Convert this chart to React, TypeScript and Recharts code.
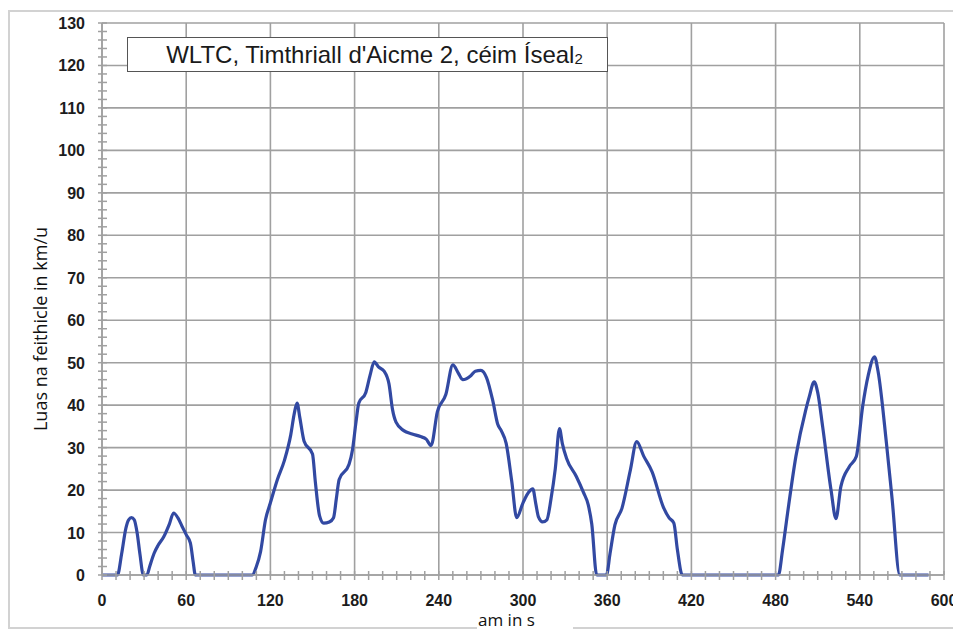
import { LineChart, Line, XAxis, YAxis, ReferenceLine } from 'recharts';

// WLTC class 2, low phase: time (s) vs vehicle speed (km/h)
const times = [
  0, 11, 14, 17, 19, 21, 23, 25, 27, 29.5, 32, 34, 37, 40, 44, 48, 51, 54, 57, 60, 63, 65, 66.5,
  107, 110, 113, 116.5, 120, 125, 130, 134.5, 137, 139, 141, 144, 150, 152, 155, 158, 162, 165, 167, 169,
  176, 178.5, 181, 183, 188, 191, 194, 197, 201, 204.5, 207, 209.5, 215, 221, 227, 231, 234.5, 239, 245,
  250, 254, 257, 263, 266, 270, 274, 278.5, 282, 284.5, 288, 292, 295.5, 300, 304, 307, 309, 311, 314,
  317, 320, 323, 326, 328, 331, 338, 343, 346.5, 349, 352.5, 359.5, 362, 365.5, 370.5, 376.5, 381, 386,
  392, 400, 404, 407.5, 410, 413.5, 482, 485, 488.5, 494.5, 501.5, 504, 507.5, 510, 513.5, 519.5, 523,
  526.5, 532.5, 537.5, 542, 546, 550.5, 553, 559, 563, 568.5, 589,
];
const speeds = [
  0, 0, 5, 11, 13, 13.5, 13, 10, 5, 0, 0, 2, 5, 7, 9, 12, 14.6, 13.5, 11.5, 9.5, 7.5, 3, 0,
  0, 2, 5.5, 13, 17, 22.5, 27, 33, 38, 40.5, 37, 31.5, 28.5, 22, 14, 12.2, 12.5, 13.5, 18, 22.5,
  26, 29.5, 36, 40.5, 43, 47, 50.2, 49, 48, 45, 39, 36, 34, 33.2, 32.6, 32, 30.5, 38.5, 42.5,
  49.5, 47.5, 46, 47, 48, 48.2, 46.5, 41, 35.5, 34, 31, 22, 13.5, 17, 19.5, 20.3, 17, 13.7, 12.5,
  13, 18, 25, 34.5, 31, 27.5, 23.2, 19.5, 16.5, 12, 0, 0, 5, 11.8, 15.7, 24.7, 31.4, 28,
  24.3, 16, 13.5, 12.2, 6, 0, 0, 6, 14.5, 28, 38.9, 42, 45.5, 43, 35, 20, 13.3,
  20.8, 25.5, 27.9, 39.6, 47, 51.4, 48, 31, 18, 0, 0,
];
const xMajor = [0, 60, 120, 180, 240, 300, 360, 420, 480, 540, 600];
const yMajor = [0, 10, 20, 30, 40, 50, 60, 70, 80, 90, 100, 110, 120, 130];
const xTicks = Array.from({ length: 61 }, (_, i) => i * 10);
const yTicks = Array.from({ length: 66 }, (_, i) => i * 2);

const data = times.map((t, i) => ({ t, v: speeds[i] }));

const GRID = '#a0a0a0';
const TICK_FONT = '"Liberation Sans", Arial, sans-serif';

const XTick = (props: any) => {
  const { x, y, payload } = props;
  const major = payload.value % 60 === 0;
  return (
    <g>
      <line x1={x} x2={x} y1={y - 4} y2={y + 5} stroke={GRID} strokeWidth={1.5} />
      {major && (
        <text x={x} y={y + 31} textAnchor="middle" fontSize={16} fontWeight="bold" fill="#1c1c1c" fontFamily={TICK_FONT}>
          {payload.value}
        </text>
      )}
    </g>
  );
};

const YTick = (props: any) => {
  const { x, y, payload } = props;
  const major = payload.value % 10 === 0;
  return (
    <g>
      <line x1={x - 4} x2={x + 5} y1={y} y2={y} stroke={GRID} strokeWidth={1.5} />
      {major && (
        <text x={x - 17} y={y + 6} textAnchor="end" fontSize={16} fontWeight="bold" fill="#1c1c1c" fontFamily={TICK_FONT}>
          {payload.value}
        </text>
      )}
    </g>
  );
};

export default function App() {
  return (
    <div style={{ position: 'absolute', left: 0, top: 0, width: 953, height: 630, background: '#fff', overflow: 'hidden' }}>
      {/* chart area border */}
      <div style={{ position: 'absolute', left: 8, top: 10, width: 980, height: 615, border: '2px solid #d2d2d2' }} />
      <div style={{ position: 'absolute', left: 0, top: 0 }}>
        <LineChart width={953} height={630} data={data} margin={{ top: 23, right: 9, bottom: 25, left: 42 }}>
          {xMajor.map((v) => (
            <ReferenceLine key={'x' + v} x={v} stroke={GRID} strokeWidth={1.6} />
          ))}
          {yMajor.map((v) => (
            <ReferenceLine key={'y' + v} y={v} stroke={GRID} strokeWidth={1.6} />
          ))}
          <XAxis
            dataKey="t"
            type="number"
            domain={[0, 600]}
            ticks={xTicks}
            interval={0}
            height={30}
            tickSize={0}
            tickMargin={0}
            tickLine={false}
            axisLine={{ stroke: GRID, strokeWidth: 1.6 }}
            tick={<XTick />}
          />
          <YAxis
            type="number"
            domain={[0, 130]}
            ticks={yTicks}
            interval={0}
            width={60}
            tickSize={0}
            tickMargin={0}
            tickLine={false}
            axisLine={{ stroke: GRID, strokeWidth: 1.6 }}
            tick={<YTick />}
          />
          <Line
            type="monotone"
            dataKey="v"
            stroke="#3249a2"
            strokeWidth={3.2}
            dot={false}
            isAnimationActive={false}
          />
        </LineChart>
      </div>
      {/* title box */}
      <div
        style={{
          position: 'absolute', left: 127, top: 37, width: 481, height: 35,
          border: '1px solid #555', background: '#fff', boxSizing: 'border-box',
          fontFamily: '"Liberation Sans", Arial, sans-serif', fontSize: 24, color: '#1a1a1a',
          display: 'flex', alignItems: 'center', justifyContent: 'center', paddingLeft: 14,
        }}
      >
        <span>WLTC, Timthriall d'Aicme 2, céim Íseal<span style={{ fontSize: 15, verticalAlign: -1 }}>2</span></span>
      </div>
      {/* y-axis title */}
      <div
        style={{
          position: 'absolute', left: 40, top: 329, transform: 'translate(-50%, -50%) rotate(-90deg)',
          whiteSpace: 'nowrap', fontFamily: '"Open Sans", Arial, sans-serif', fontSize: 18, color: '#111',
        }}
      >
        Luas na feithicle in km/u
      </div>
      {/* x-axis title */}
      <div
        style={{
          position: 'absolute', left: 477, top: 611, width: 96, height: 19, background: '#fff',
          fontFamily: '"Open Sans", Arial, sans-serif', fontSize: 17, color: '#111', lineHeight: '18px',
        }}
      >
        <span style={{ marginLeft: 1 }}>am in s</span>
      </div>
    </div>
  );
}
